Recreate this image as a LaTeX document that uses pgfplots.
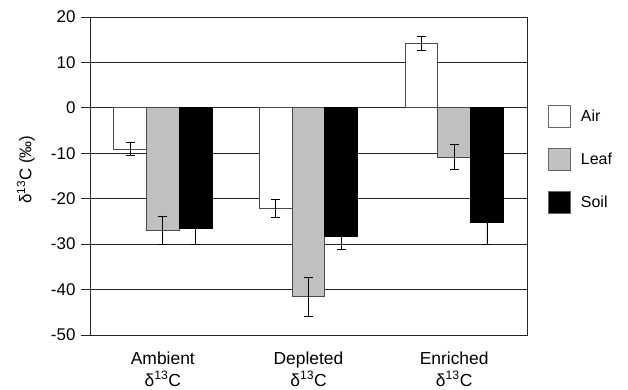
\documentclass[border=0pt]{standalone}
\usepackage{fontspec}
\setmainfont{Liberation Sans}
\usepackage{pgfplots}
\pgfplotsset{compat=1.18}
\definecolor{leafgray}{RGB}{192,192,192}
\begin{document}
\begin{tikzpicture}[font=\fontsize{16}{18}\selectfont]
\begin{axis}[
 scale only axis, width=437bp, height=318bp,
 xmin=-0.5, xmax=2.5, ymin=-50, ymax=20,
 ytick={-50,-40,...,20},
 ymajorgrids, grid style={black!85, line width=0.8bp},
 axis line style={black!85, line width=0.8bp},
 xtick={0,1,2},
 xticklabels={{Ambient\\δ\textsuperscript{13}C},{Depleted\\δ\textsuperscript{13}C},{Enriched\\δ\textsuperscript{13}C}},
 xticklabel style={align=center, yshift=-4bp, font=\fontsize{17.5}{22}\selectfont},
 xtick style={draw=none},
 ytick pos=left, tick align=outside, major tick length=9bp,
 ytick style={black!85, line width=0.8bp},
 yticklabel style={xshift=-2bp, font=\fontsize{17}{18}\selectfont},
 /pgf/number format/assume math mode=true,
 ylabel={δ\textsuperscript{13}C (‰)},
 ylabel style={at={(axis description cs:-0.147,0.52)}, anchor=center, font=\fontsize{17}{18}\selectfont},
 ybar, bar width=0.225, bar shift=0pt,
 legend style={draw=none, fill=none, at={(1.048,0.723)}, anchor=north west,
   inner sep=0pt, row sep=20bp, cells={anchor=west}, nodes={inner sep=0pt}},
 legend image code/.code={\draw[#1, draw=black!60, line width=0.8bp] (0bp,-11bp) rectangle (22bp,11bp);},
]
\addplot[fill=white, draw=black!70, line width=0.8bp,
  error bars/.cd, y dir=both, y explicit,
  error mark options={rotate=90, mark size=4.5bp, black, line width=0.8bp},
  error bar style={black, line width=0.8bp}]
  coordinates {(-0.225,-9.05) +- (0,1.5) (0.775,-22.1) +- (0,2.0) (1.775,14.1) +- (0,1.55)};
\addlegendentry{\hspace{10bp}Air}
\addplot[fill=leafgray, draw=black!70, line width=0.8bp,
  error bars/.cd, y dir=both, y explicit,
  error mark options={rotate=90, mark size=4.5bp, black, line width=0.8bp},
  error bar style={black, line width=0.8bp}]
  coordinates {(0,-26.9) +- (0,3.1) (1,-41.6) +- (0,4.3) (2,-10.9) +- (0,2.75)};
\addlegendentry{\hspace{10bp}Leaf}
\addplot[fill=black, draw=black, line width=0.8bp,
  error bars/.cd, y dir=both, y explicit,
  error mark options={rotate=90, mark size=4.5bp, black, line width=0.8bp},
  error bar style={black, line width=0.8bp}]
  coordinates {(0.225,-26.6) +- (0,3.4) (1.225,-28.3) +- (0,2.8) (2.225,-25.3) +- (0,4.75)};
\addlegendentry{\hspace{10bp}Soil}
\end{axis}
\path (current axis.south west) ++(-90bp,-54bp) rectangle ++(628bp,389bp);
\end{tikzpicture}
\end{document}
